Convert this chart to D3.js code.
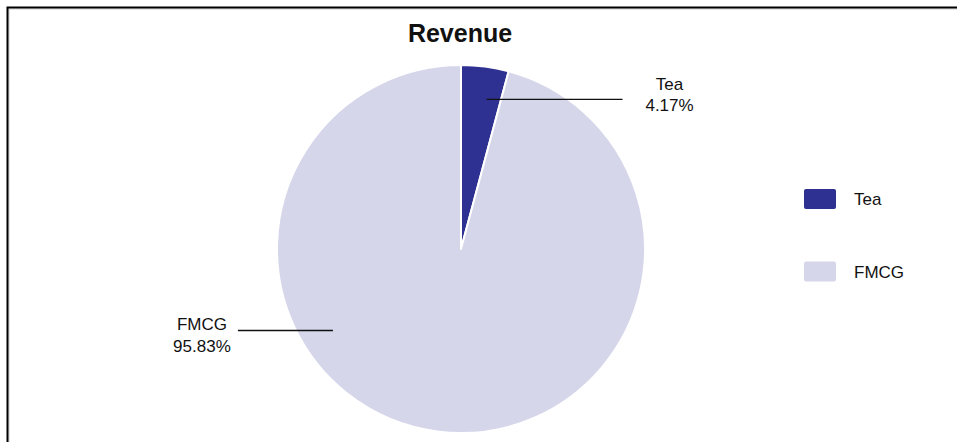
<!DOCTYPE html>
<html>
<head>
<meta charset="utf-8">
<script src="https://cdn.jsdelivr.net/npm/d3@7"></script>
<style>
  html, body { margin: 0; padding: 0; background: #fff; }
  #svg-container { width: 957px; height: 442px; }
  text { font-family: "Liberation Sans", Arial, Helvetica, sans-serif; fill: #111; }
  .title { font-size: 25px; font-weight: bold; }
  .label, .legend-texts { font-size: 17px; }
</style>
</head>
<body>
<div id="svg-container"></div>
<script>
// data
const categories = ["Tea", "FMCG"];
const values = [4.17, 95.83];
const colors = ["#2e3192", "#d5d6ea"];

////////////////////////////  Init  ///////////////////////////////
const width = 957;
const height = 442;
const svg = d3.select("#svg-container").append("svg")
  .attr("width", width).attr("height", height);

// frame (only top/left edges show)
svg.append("rect")
  .attr("x", 9).attr("y", 9).attr("width", width + 20).attr("height", height + 20)
  .attr("fill", "none").attr("stroke", "#ccc").attr("stroke-width", 1);
svg.append("rect")
  .attr("x", 7.5).attr("y", 7.5).attr("width", width + 20).attr("height", height + 20)
  .attr("fill", "none").attr("stroke", "#000").attr("stroke-width", 2);

svg.append("text")
  .attr("class", "title")
  .attr("x", 460).attr("y", 42)
  .attr("text-anchor", "middle")
  .text("Revenue");

const cx = 461, cy = 249, radius = 184;
const colorScale = d3.scaleOrdinal().domain(categories).range(colors);

const data = categories.map((c, i) => ({ name: c, value: values[i] }));
const pie = d3.pie().value((d) => d.value).sort(null);
const arcs = pie(data);
const arc = d3.arc().innerRadius(0).outerRadius(radius);

const g = svg.append("g").attr("transform", `translate(${cx},${cy})`);

g.selectAll("path")
  .data(arcs)
  .enter()
  .append("path")
  .attr("d", arc)
  .attr("fill", (d) => colorScale(d.data.name))
  .attr("stroke", "#fff")
  .attr("stroke-width", 2)
  .attr("stroke-linejoin", "round");

// labels: anchor inside slice, horizontal leader line, text at its end
const labelOpts = {
  Tea: { lineLen: 136, textGap: 47, dir: 1, y1: -9, y2: 12 },
  FMCG: { lineLen: 95, textGap: 36, dir: -1, y1: 0, y2: 22 }
};
const fmt = (v) => v.toFixed(2) + "%";

arcs.forEach((d) => {
  const a = d.startAngle + 0.645 * (d.endAngle - d.startAngle);
  const r = radius * 0.825;
  const x0 = Math.sin(a) * r;
  const y0 = -Math.cos(a) * r;
  const o = labelOpts[d.data.name];
  const x1 = x0 + o.dir * o.lineLen;
  g.append("line")
    .attr("x1", x0).attr("y1", y0)
    .attr("x2", x1).attr("y2", y0)
    .attr("stroke", "#111").attr("stroke-width", 1.3);
  const tx = x1 + o.dir * o.textGap;
  g.append("text").attr("class", "label")
    .attr("x", tx).attr("y", y0 + o.y1)
    .attr("text-anchor", "middle")
    .text(d.data.name);
  g.append("text").attr("class", "label")
    .attr("x", tx).attr("y", y0 + o.y2)
    .attr("text-anchor", "middle")
    .text(fmt(d.data.value));
});

// Legend
const legendX = 804, legendY = 189, legendStep = 72.5;
svg.selectAll(".legend-rects")
  .data(categories)
  .enter()
  .append("rect")
  .attr("x", legendX)
  .attr("y", (d, i) => legendY + legendStep * i)
  .attr("width", 32)
  .attr("height", 20)
  .attr("rx", 2)
  .attr("fill", (d) => colorScale(d));

svg.selectAll(".legend-texts")
  .data(categories)
  .enter()
  .append("text")
  .attr("class", "legend-texts")
  .attr("x", legendX + 50)
  .attr("y", (d, i) => legendY + 16 + legendStep * i)
  .text((d) => d);
</script>
</body>
</html>
